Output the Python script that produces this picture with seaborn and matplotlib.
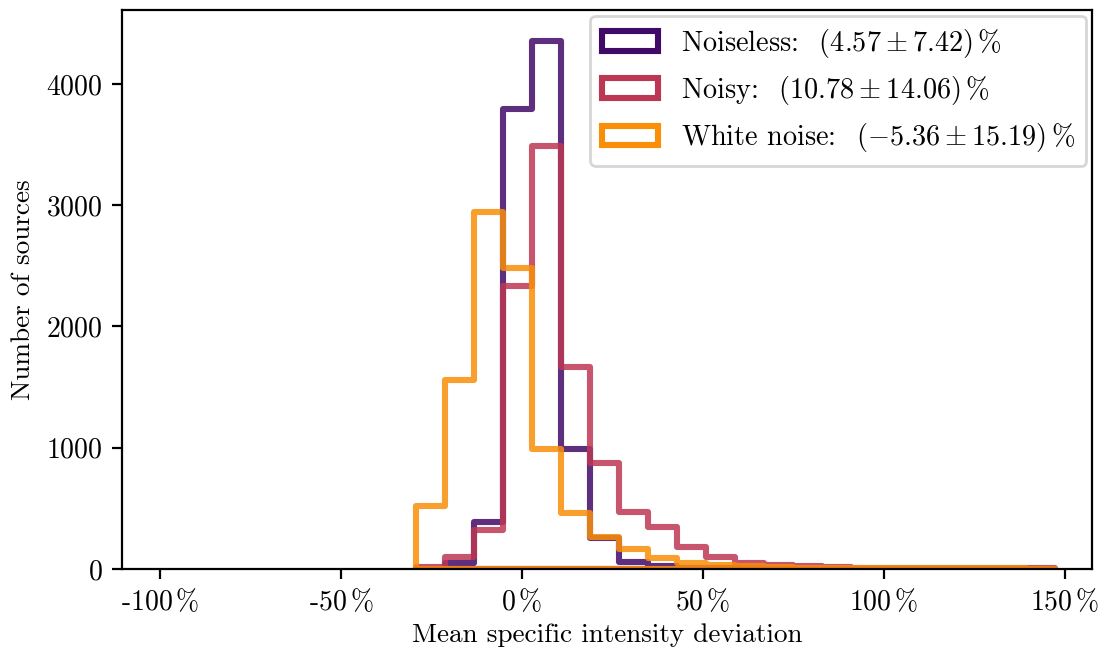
import numpy as np
import pandas as pd
import matplotlib
matplotlib.use("Agg")
import matplotlib.pyplot as plt
from matplotlib.patches import Patch
import seaborn as sns

# ---- data ----
bin_lo, bin_hi, n_bins = -29.4, 147.2, 22
noiseless = [3, 47, 390, 3790, 4357, 990, 255, 55, 25, 10, 6, 4, 3, 2, 2, 1, 1, 1, 1, 1, 1, 2]
noisy = [20, 96, 322, 2337, 3491, 1663, 874, 473, 344, 184, 102, 52, 36, 25, 18, 12, 10, 10, 12, 8, 6, 4]
white_noise = [522, 1559, 2944, 2480, 990, 462, 267, 165, 88, 47, 33, 22, 16, 12, 10, 8, 7, 8, 6, 5, 4, 3]
series_names = ["Noiseless", "Noisy", "White noise"]
legend_labels = [r"Noiseless: $\;\,(4.57 \pm 7.42)\,\%$",
                 r"Noisy: $\;\,(10.78 \pm 14.06)\,\%$",
                 r"White noise: $\;\,(-5.36 \pm 15.19)\,\%$"]
xticks = [-100, -50, 0, 50, 100, 150]
xtick_labels = ["-100", "-50", "0", "50", "100", "150"]
yticks = [0, 1000, 2000, 3000, 4000]

plt.rcParams["font.family"] = "serif"
plt.rcParams["font.serif"] = ["cmr10", "DejaVu Serif"]
plt.rcParams["mathtext.fontset"] = "cm"
plt.rcParams["axes.formatter.use_mathtext"] = True
plt.rcParams["font.size"] = 10

edges = np.linspace(bin_lo, bin_hi, n_bins + 1)
centers = 0.5 * (edges[:-1] + edges[1:])
cmap = plt.get_cmap("inferno")
colors = [cmap(0.2), cmap(0.5), cmap(0.75)]

fig = plt.figure(figsize=(5.525, 3.255), dpi=200)
ax = fig.add_axes([0.1104, 0.126, 0.9882 - 0.1104, 0.9846 - 0.126])

for name, counts, col in zip(series_names, [noiseless, noisy, white_noise], colors):
    df = pd.DataFrame({"x": centers, "w": counts})
    sns.histplot(data=df, x="x", weights="w", bins=edges.tolist(), element="step", fill=True,
                 color=col, facecolor="none", edgecolor=(col[0], col[1], col[2], 0.85),
                 linewidth=2.2, ax=ax)

ax.set_xlim(-110.5, 157.5)
ax.set_ylim(0, 4610)
ax.set_xticks(xticks)
ax.set_xticklabels([t + r"$\,\%$" for t in xtick_labels])
ax.set_yticks(yticks)
ax.set_xlabel("Mean specific intensity deviation", fontsize=9.8, labelpad=2.5)
ax.set_ylabel("Number of sources", fontsize=9.8)

handles = [Patch(facecolor="none", edgecolor=c, linewidth=2.2) for c in colors]
ax.legend(handles, legend_labels, loc="upper right", borderaxespad=0.2, fontsize=10.2)

fig.savefig("out.png", dpi=200)
